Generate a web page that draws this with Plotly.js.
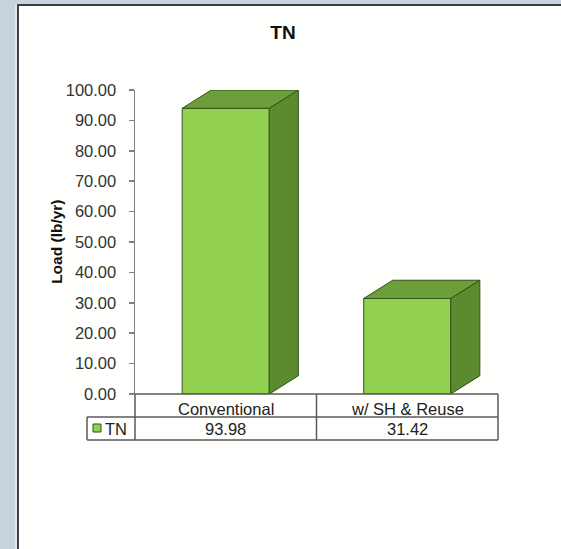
<!DOCTYPE html>
<html>
<head>
<meta charset="utf-8">
<script src="https://cdn.plot.ly/plotly-3.0.1.min.js"></script>
<style>
  html, body { margin: 0; padding: 0; width: 561px; height: 549px; overflow: hidden; background: #c6d2dc; }
  #frame { position: absolute; left: 17px; top: 4px; right: 0; bottom: 0;
           border-left: 2px solid #3e4044; border-top: 2px solid #3e4044;
           box-shadow: -2px 0 0 #dfe6eb; background: #fffffd; }
  #chart { position: absolute; left: 0; top: 0; width: 561px; height: 549px; }
</style>
</head>
<body>
<div id="frame"></div>
<div id="chart"></div>
<script>
// Total nitrogen load by scenario
const categories = ['Conventional', 'w/ SH & Reuse'];
const tnLoad = [93.98, 31.42];
const seriesName = 'TN';
const yTickValues = [0, 10, 20, 30, 40, 50, 60, 70, 80, 90, 100];

// Look of the pseudo-3D columns
const barWidth = 0.48;     // in category units
const depthX = 0.16;       // in category units
const depthY = 6.0;        // in load units
const frontColor = '#92d050';
const topColor = '#6c9f39';
const sideColor = '#5b8a2f';
const edgeColor = '#34521a';
const gridLine = '#5a5a5a';

const xIdx = categories.map((_, i) => i);

const traces = [];

// Front faces: ordinary bars
traces.push({
  type: 'bar', x: xIdx, y: tnLoad, width: barWidth, name: seriesName,
  marker: { color: frontColor, line: { color: edgeColor, width: 1 } },
  hoverinfo: 'skip', showlegend: false
});

// Top and side faces built from each bar's value
xIdx.forEach((x, i) => {
  const v = tnLoad[i];
  const l = x - barWidth / 2, r = x + barWidth / 2;
  traces.push({
    type: 'scatter', mode: 'lines', fill: 'toself', fillcolor: topColor,
    x: [l, r, r + depthX, l + depthX, l],
    y: [v, v, v + depthY, v + depthY, v],
    line: { color: edgeColor, width: 1 }, hoverinfo: 'skip', showlegend: false
  });
  traces.push({
    type: 'scatter', mode: 'lines', fill: 'toself', fillcolor: sideColor,
    x: [r, r + depthX, r + depthX, r, r],
    y: [0, depthY, v + depthY, v, 0],
    line: { color: edgeColor, width: 1 }, hoverinfo: 'skip', showlegend: false
  });
});

// Data table under the plot (paper coordinates)
const rowMid = -0.0757, rowBottom = -0.1513, tableLeft = -0.1322;
const line = (x0, y0, x1, y1) => ({ type: 'line', xref: 'paper', yref: 'paper',
  x0, y0, x1, y1, line: { color: gridLine, width: 1.5 } });

const shapes = [
  line(0, 0, 1, 0),
  line(tableLeft, rowMid, 1, rowMid),
  line(tableLeft, rowBottom, 1, rowBottom),
  line(tableLeft, rowMid, tableLeft, rowBottom),
  line(0, 0, 0, rowBottom),
  line(0.5, 0, 0.5, rowBottom),
  line(1, 0, 1, rowBottom),
  // series key in the table
  { type: 'rect', xref: 'paper', yref: 'paper', x0: -0.1157, x1: -0.0937, y0: -0.0987, y1: -0.1250,
    fillcolor: frontColor, line: { color: edgeColor, width: 1 } }
];

const tableFont = { family: 'Liberation Sans, Arial, sans-serif', size: 16.5, color: '#222' };
const annotations = [];
categories.forEach((c, i) => {
  annotations.push({ xref: 'x', yref: 'paper', x: i, y: -0.049, text: c, showarrow: false,
    xanchor: 'center', yanchor: 'middle', font: tableFont });
  annotations.push({ xref: 'x', yref: 'paper', x: i, y: -0.115, text: tnLoad[i].toFixed(2), showarrow: false,
    xanchor: 'center', yanchor: 'middle', font: tableFont });
});
annotations.push({ xref: 'paper', yref: 'paper', x: -0.088, y: -0.115, text: seriesName, showarrow: false,
  xanchor: 'left', yanchor: 'middle', font: tableFont });
annotations.push({ xref: 'paper', yref: 'paper', x: -0.218, y: 0.5, text: 'Load (lb/yr)', showarrow: false,
  textangle: -90, xanchor: 'center', yanchor: 'middle',
  font: { family: 'Liberation Sans, Arial, sans-serif', size: 15.5, color: '#111', weight: 'bold' } });

const layout = {
  width: 561, height: 549,
  margin: { l: 135, r: 63, t: 90, b: 155, pad: 0 },
  paper_bgcolor: 'rgba(0,0,0,0)', plot_bgcolor: 'rgba(0,0,0,0)',
  title: { text: '<b>TN</b>', xref: 'container', yref: 'container', x: 0.5045, y: 0.9417,
    xanchor: 'center', yanchor: 'middle',
    font: { family: 'Liberation Sans, Arial, sans-serif', size: 19, color: '#111' } },
  showlegend: false,
  bargap: 0,
  xaxis: { type: 'linear', range: [-0.5, 1.5], showline: false, showgrid: false, zeroline: false,
    showticklabels: false, ticks: '', fixedrange: true },
  yaxis: { range: [0, 100], tickvals: yTickValues, tickformat: '.2f', ticks: 'outside', ticklen: 5,
    tickcolor: '#808080', tickwidth: 1.5, showline: true, linecolor: '#808080', linewidth: 1.5,
    showgrid: false, zeroline: false, ticklabelstandoff: 9,
    tickfont: { family: 'Liberation Sans, Arial, sans-serif', size: 16.5, color: '#333' } },
  shapes, annotations
};

Plotly.newPlot('chart', traces, layout, { staticPlot: true, displayModeBar: false });
</script>
</body>
</html>
